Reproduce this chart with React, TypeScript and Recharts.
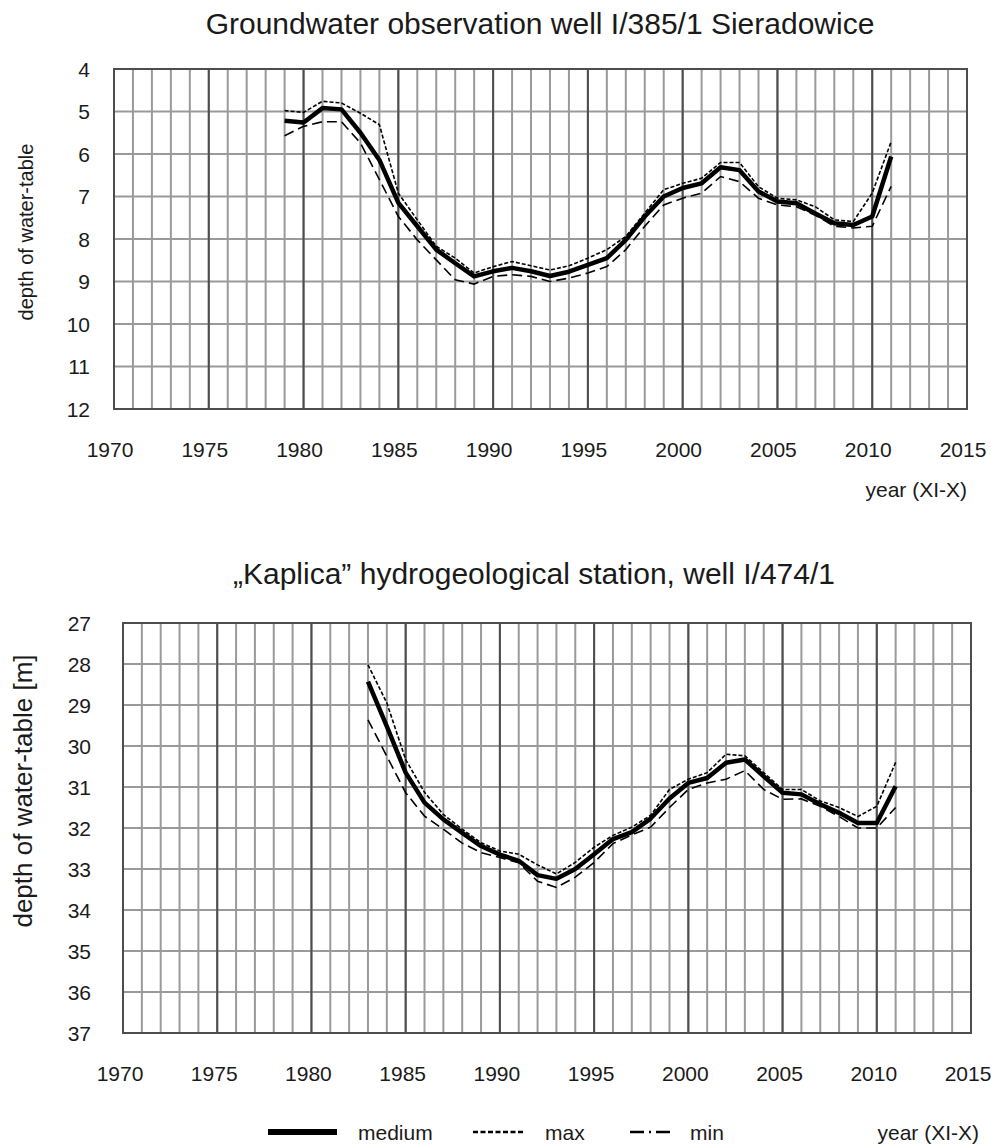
import React from "react";
import {
  LineChart, Line, XAxis, YAxis, CartesianGrid, ReferenceLine, ReferenceArea,
} from "recharts";

const FONT = '"Liberation Sans", Arial, Helvetica, sans-serif';
const INK = "#1a1a1a";

// --- axes ---
const majorYears = [1970, 1975, 1980, 1985, 1990, 1995, 2000, 2005, 2010, 2015];
const yearTicks = Array.from({ length: 46 }, (_, i) => 1970 + i);
const sieradowiceDepthTicks = [4, 5, 6, 7, 8, 9, 10, 11, 12];
const kaplicaDepthTicks = [27, 28, 29, 30, 31, 32, 33, 34, 35, 36, 37];

// --- well I/385/1 Sieradowice ---
const sieradowiceYears = [
  1979, 1980, 1981, 1982, 1983, 1984, 1985, 1986, 1987, 1988, 1989,
  1990, 1991, 1992, 1993, 1994, 1995, 1996, 1997, 1998, 1999, 2000,
  2001, 2002, 2003, 2004, 2005, 2006, 2007, 2008, 2009, 2010, 2011,
];
const sieradowiceMedium = [
  5.22, 5.26, 4.92, 4.95, 5.5, 6.14, 7.15, 7.7, 8.25, 8.57, 8.88,
  8.76, 8.68, 8.76, 8.87, 8.77, 8.61, 8.45, 8.02, 7.47, 7.0, 6.8,
  6.69, 6.31, 6.38, 6.88, 7.12, 7.16, 7.4, 7.63, 7.67, 7.47, 6.06,
];
const sieradowiceMax = [
  4.98, 5.02, 4.76, 4.8, 5.04, 5.31, 6.92, 7.55, 8.17, 8.45, 8.8,
  8.65, 8.53, 8.63, 8.73, 8.63, 8.45, 8.25, 7.94, 7.39, 6.84, 6.69,
  6.57, 6.2, 6.2, 6.77, 7.04, 7.08, 7.24, 7.55, 7.59, 6.92, 5.71,
];
const sieradowiceMin = [
  5.57, 5.35, 5.24, 5.24, 5.74, 6.6, 7.47, 8.02, 8.49, 8.96, 9.06,
  8.88, 8.84, 8.88, 9.0, 8.92, 8.8, 8.65, 8.25, 7.7, 7.2, 7.04,
  6.92, 6.53, 6.65, 7.04, 7.2, 7.24, 7.44, 7.7, 7.74, 7.7, 6.76,
];

// --- "Kaplica" station, well I/474/1 ---
const kaplicaYears = [
  1983, 1984, 1985, 1986, 1987, 1988, 1989, 1990, 1991, 1992,
  1993, 1994, 1995, 1996, 1997, 1998, 1999, 2000, 2001, 2002,
  2003, 2004, 2005, 2006, 2007, 2008, 2009, 2010, 2011,
];
const kaplicaMedium = [
  28.43, 29.52, 30.65, 31.38, 31.79, 32.12, 32.44, 32.65, 32.8, 33.15,
  33.24, 33.0, 32.64, 32.27, 32.1, 31.77, 31.28, 30.9, 30.78, 30.41,
  30.33, 30.74, 31.14, 31.18, 31.42, 31.63, 31.88, 31.88, 30.98,
];
const kaplicaMax = [
  28.02, 28.95, 30.33, 31.13, 31.67, 32.03, 32.36, 32.56, 32.64, 32.9,
  33.12, 32.84, 32.47, 32.18, 31.98, 31.69, 31.06, 30.81, 30.65, 30.2,
  30.24, 30.65, 31.06, 31.06, 31.34, 31.5, 31.72, 31.47, 30.4,
];
const kaplicaMin = [
  29.36, 30.25, 31.14, 31.71, 32.03, 32.37, 32.6, 32.72, 32.85, 33.3,
  33.45, 33.2, 32.84, 32.38, 32.17, 31.98, 31.5, 31.06, 30.9, 30.81,
  30.6, 31.06, 31.3, 31.29, 31.47, 31.72, 32.0, 32.0, 31.5,
];

type Row = { year: number; medium: number; max: number; min: number };

function toRows(years: number[], medium: number[], max: number[], min: number[]): Row[] {
  return years.map((year, i) => ({ year, medium: medium[i], max: max[i], min: min[i] }));
}

// eslint-disable-next-line @typescript-eslint/no-explicit-any
function YearTick({ x, y, payload, shift }: any) {
  if (payload.value % 5 !== 0) return <g />;
  return (
    <text x={x + shift} y={y + 48} textAnchor="middle" fontSize={21} fill={INK} fontFamily={FONT}>
      {payload.value}
    </text>
  );
}

// eslint-disable-next-line @typescript-eslint/no-explicit-any
function DepthTick({ x, y, payload, gap }: any) {
  return (
    <text x={x - gap} y={y + 7.5} textAnchor="end" fontSize={21} fill={INK} fontFamily={FONT}>
      {payload.value}
    </text>
  );
}

type ChartProps = {
  rows: Row[];
  depthTicks: number[];
  top: number;
  height: number;
  plotLeft: number;
  rightMargin: number;
  yTickGap: number;
  xShift: number;
};

function WellChart({ rows, depthTicks, top, height, plotLeft, rightMargin, yTickGap, xShift }: ChartProps) {
  const d0 = depthTicks[0];
  const d1 = depthTicks[depthTicks.length - 1];
  return (
    <div style={{ position: "absolute", left: 0, top, width: 991, height }}>
      <LineChart width={991} height={height} data={rows}
        margin={{ top: 69, right: rightMargin, left: 0, bottom: 0 }}>
        <CartesianGrid stroke="#9a9a9a" strokeWidth={2} />
        <XAxis type="number" dataKey="year" domain={[1970, 2015]} ticks={yearTicks} interval={0}
          axisLine={false} tickLine={false} tickSize={0} tickMargin={0} height={61}
          tick={<YearTick shift={xShift} />} />
        <YAxis type="number" reversed domain={[d0, d1]} ticks={depthTicks} interval={0}
          axisLine={false} tickLine={false} tickSize={0} tickMargin={0} width={plotLeft}
          tick={<DepthTick gap={yTickGap} />} />
        {majorYears.slice(1, -1).map((yr) => (
          <ReferenceLine key={yr} x={yr} stroke="#4d4d4d" strokeWidth={2} />
        ))}
        <ReferenceArea x1={1970} x2={2015} y1={d0} y2={d1} fill="none" fillOpacity={0}
          stroke="#4d4d4d" strokeWidth={2} strokeOpacity={1} />
        {/* medium — thick solid */}
        <Line type="linear" dataKey="medium" stroke="#000" strokeWidth={4.5} strokeLinejoin="round"
          dot={false} isAnimationActive={false} />
        {/* max — short dashes */}
        <Line type="linear" dataKey="max" stroke="#000" strokeWidth={1.6} strokeDasharray="4 2"
          dot={false} isAnimationActive={false} />
        {/* min — long dashes */}
        <Line type="linear" dataKey="min" stroke="#000" strokeWidth={1.6} strokeDasharray="10 5"
          dot={false} isAnimationActive={false} />
      </LineChart>
    </div>
  );
}

export default function App() {
  const sieradowice = toRows(sieradowiceYears, sieradowiceMedium, sieradowiceMax, sieradowiceMin);
  const kaplica = toRows(kaplicaYears, kaplicaMedium, kaplicaMax, kaplicaMin);

  return (
    <div style={{ position: "absolute", left: 0, top: 0, width: 991, height: 1147, background: "#fff", fontFamily: FONT }}>
      <WellChart rows={sieradowice} depthTicks={sieradowiceDepthTicks} top={0} height={470}
        plotLeft={114} rightMargin={24} yTickGap={24} xShift={-4} />
      <WellChart rows={kaplica} depthTicks={kaplicaDepthTicks} top={554} height={540}
        plotLeft={123} rightMargin={20} yTickGap={32} xShift={-3} />

      {/* titles, axis names and legend */}
      <svg width={991} height={1147} style={{ position: "absolute", left: 0, top: 0, pointerEvents: "none" }}
        fontFamily={FONT} fill={INK}>
        <text x={540} y={34} textAnchor="middle" fontSize={30}>
          Groundwater observation well I/385/1 Sieradowice
        </text>
        <text x={534} y={584} textAnchor="middle" fontSize={30}>
          „Kaplica” hydrogeological station, well I/474/1
        </text>
        <text transform="translate(26,232) rotate(-90)" textAnchor="middle" dominantBaseline="central" fontSize={20}>
          depth of water-table
        </text>
        <text transform="translate(23,791) rotate(-90)" textAnchor="middle" dominantBaseline="central" fontSize={26}>
          depth of water-table [m]
        </text>
        <text x={967} y={497} textAnchor="end" fontSize={21}>year (XI-X)</text>
        <text x={979} y={1140} textAnchor="end" fontSize={21}>year (XI-X)</text>

        <line x1={268} x2={337} y1={1132} y2={1132} stroke="#000" strokeWidth={6} />
        <text x={358} y={1140} fontSize={21}>medium</text>
        <line x1={473} x2={525} y1={1132} y2={1132} stroke="#000" strokeWidth={2.5} strokeDasharray="5 2.5" />
        <text x={545} y={1140} fontSize={21}>max</text>
        <line x1={630} x2={674} y1={1132} y2={1132} stroke="#000" strokeWidth={2.5} strokeDasharray="14 5 2 5" />
        <text x={690} y={1140} fontSize={21}>min</text>
      </svg>
    </div>
  );
}
